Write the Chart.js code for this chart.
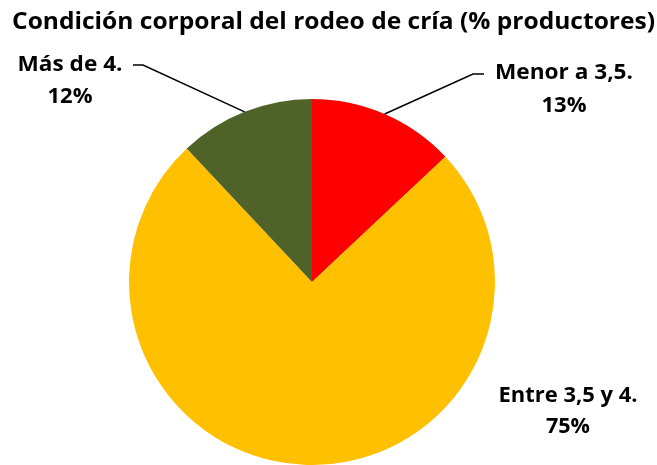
<!DOCTYPE html>
<html>
<head>
<meta charset="utf-8">
<script src="https://cdn.jsdelivr.net/npm/chart.js@4/dist/chart.umd.min.js"></script>
<style>
  html, body { margin: 0; padding: 0; background: #ffffff; overflow: hidden; }
  #c { display: block; }
</style>
</head>
<body>
<canvas id="c" width="657" height="465"></canvas>
<script>
// ---- data ----
const titleText = 'Condición corporal del rodeo de cría (% productores)';
const categories = ['Menor a 3,5.', 'Entre 3,5 y 4.', 'Más de 4.'];
const values = [13, 75, 12];
const colors = ['#FF0000', '#FFC000', '#4F6228'];

// ---- label styling (text block placement, fitted widths, leader elbows) ----
const titleStyle = { cx: 333.5, base: 28.5, width: 643, size: 24 };
const labelStyle = [
  { cx: 564, base1: 79, base2: 112, w1: 138, w2: 45, leader: true, elbow: [473, 74], end: [484, 74] },
  { cx: 568, base1: 402, base2: 433, w1: 139, w2: 44, leader: false },
  { cx: 70, base1: 71, base2: 103, w1: 105, w2: 45, leader: true, elbow: [143, 65], end: [133, 65] }
];
const FONT = '"Open Sans", "Lato", sans-serif';
const LABEL_SIZE = 22;

function drawFitted(ctx, text, cx, base, targetW) {
  const w = ctx.measureText(text).width;
  const sx = targetW / w;
  ctx.save();
  ctx.translate(cx, base);
  ctx.scale(sx, 1);
  ctx.textAlign = 'center';
  ctx.textBaseline = 'alphabetic';
  ctx.fillText(text, 0, 0);
  ctx.restore();
}

const labelsPlugin = {
  id: 'customLabels',
  afterDraw(chart) {
    const ctx = chart.ctx;
    ctx.save();
    ctx.fillStyle = '#000000';
    ctx.font = 'bold ' + titleStyle.size + 'px ' + FONT;
    drawFitted(ctx, titleText, titleStyle.cx, titleStyle.base, titleStyle.width);

    ctx.font = 'bold ' + LABEL_SIZE + 'px ' + FONT;
    const meta = chart.getDatasetMeta(0);
    meta.data.forEach((arc, i) => {
      const st = labelStyle[i];
      const p = arc.getProps(['x', 'y', 'startAngle', 'endAngle', 'outerRadius'], true);
      if (st.leader) {
        const mid = (p.startAngle + p.endAngle) / 2;
        const ax = p.x + Math.cos(mid) * p.outerRadius;
        const ay = p.y + Math.sin(mid) * p.outerRadius;
        ctx.beginPath();
        ctx.strokeStyle = '#000000';
        ctx.lineWidth = 1.5;
        ctx.moveTo(ax, ay);
        ctx.lineTo(st.elbow[0], st.elbow[1]);
        ctx.lineTo(st.end[0], st.end[1]);
        ctx.stroke();
      }
      drawFitted(ctx, categories[i], st.cx, st.base1, st.w1);
      drawFitted(ctx, values[i] + '%', st.cx, st.base2, st.w2);
    });
    ctx.restore();
  }
};

new Chart(document.getElementById('c'), {
  type: 'pie',
  data: {
    labels: categories,
    datasets: [{
      data: values,
      backgroundColor: colors,
      borderWidth: 0,
      hoverOffset: 0
    }]
  },
  options: {
    responsive: false,
    animation: false,
    devicePixelRatio: 1,
    layout: { padding: { left: 129, right: 162, top: 99, bottom: 0 } },
    plugins: {
      legend: { display: false },
      tooltip: { enabled: false },
      title: { display: false }
    }
  },
  plugins: [labelsPlugin]
});
</script>
</body>
</html>
